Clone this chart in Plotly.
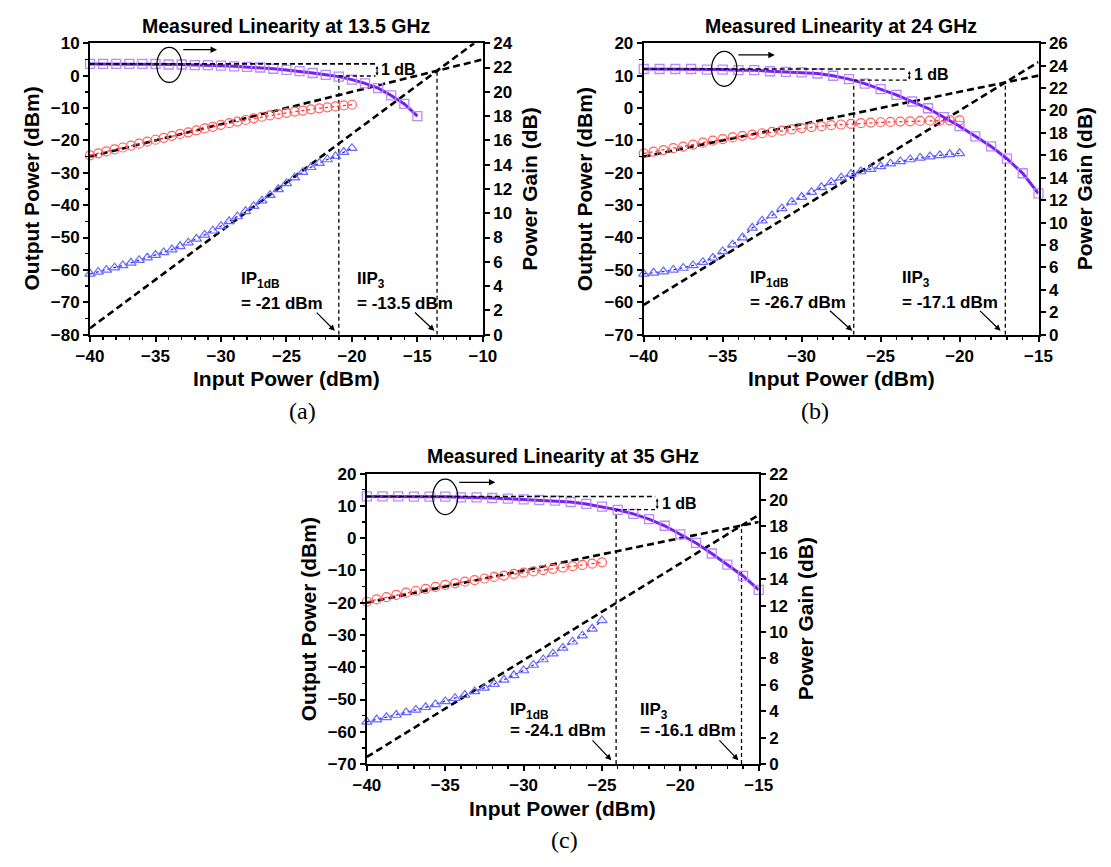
import plotly.graph_objects as go

W, H = 1111, 867

# ---------------- data ----------------
pin_fine = [-40.0, -39.375, -38.75, -38.125, -37.5, -36.875, -36.25, -35.625, -35.0,
            -34.375, -33.75, -33.125, -32.5, -31.875, -31.25, -30.625, -30.0, -29.375,
            -28.75, -28.125, -27.5, -26.875, -26.25, -25.625, -25.0, -24.375, -23.75,
            -23.125, -22.5, -21.875, -21.25, -20.625, -20.0]
pin_fine_c = [-40.0, -39.375, -38.75, -38.125, -37.5, -36.875, -36.25, -35.625, -35.0,
              -34.375, -33.75, -33.125, -32.5, -31.875, -31.25, -30.625, -30.0, -29.375,
              -28.75, -28.125, -27.5, -26.875, -26.25, -25.625, -25.0]
pin_gain = [-40, -39, -38, -37, -36, -35, -34, -33, -32, -31, -30, -29, -28, -27, -26,
            -25, -24, -23, -22, -21, -20, -19, -18, -17, -16, -15]

# (a) 13.5 GHz
fund_a = [-24.6, -24.0, -23.4, -22.8, -22.2, -21.6, -21.0, -20.4, -19.8, -19.2, -18.6,
          -18.0, -17.5, -16.9, -16.3, -15.8, -15.2, -14.7, -14.2, -13.7, -13.2, -12.7,
          -12.3, -11.9, -11.5, -11.1, -10.8, -10.4, -10.1, -9.8, -9.5, -9.2, -9.0]
im3_a = [-61.2, -60.6, -60.0, -59.3, -58.6, -57.8, -57.0, -56.2, -55.4, -54.6, -53.7,
         -52.7, -51.6, -50.4, -49.2, -47.9, -46.5, -45.0, -43.5, -41.9, -40.3, -38.6,
         -36.9, -35.1, -33.3, -31.5, -29.8, -28.3, -27.0, -25.9, -24.9, -23.6, -22.4]
gain_a = [22.3, 22.3, 22.3, 22.3, 22.3, 22.3, 22.25, 22.25, 22.2, 22.2, 22.15, 22.1,
          22.05, 22.0, 21.9, 21.8, 21.7, 21.55, 21.4, 21.25, 21.0, 20.7, 20.3, 19.7,
          19.0, 18.0]

# (b) 24 GHz
fund_b = [-14.0, -13.5, -13.0, -12.4, -11.9, -11.3, -10.7, -10.1, -9.6, -9.1, -8.6,
          -8.2, -7.8, -7.4, -7.0, -6.6, -6.2, -5.9, -5.6, -5.3, -5.1, -4.9, -4.7, -4.5,
          -4.4, -4.3, -4.2, -4.1, -4.0, -3.9, -3.9, -3.8, -3.8]
im3_b = [-51.2, -50.9, -50.5, -50.0, -49.4, -48.6, -47.6, -46.3, -44.3, -42.2, -40.0,
         -37.0, -34.8, -33.2, -31.0, -29.0, -27.5, -26.0, -24.5, -22.9, -21.5, -20.4,
         -19.6, -18.9, -18.0, -17.2, -16.5, -15.9, -15.4, -15.0, -14.6, -14.3, -14.0]
gain_b = [23.7, 23.7, 23.7, 23.7, 23.65, 23.65, 23.6, 23.6, 23.5, 23.45, 23.4, 23.3,
          23.1, 22.8, 22.4, 21.9, 21.4, 20.8, 20.2, 19.4, 18.6, 17.7, 16.8, 15.7, 14.4,
          12.6]

# (c) 35 GHz
fund_c = [-19.7, -19.0, -18.3, -17.6, -16.9, -16.3, -15.7, -15.1, -14.5, -14.0, -13.5,
          -13.0, -12.5, -12.0, -11.6, -11.1, -10.7, -10.3, -9.9, -9.5, -9.1, -8.7, -8.3,
          -7.9, -7.5]
im3_c = [-56.9, -56.2, -55.5, -54.8, -54.0, -53.2, -52.4, -51.5, -50.6, -49.6, -48.6,
         -47.5, -46.4, -45.2, -43.9, -42.5, -41.0, -39.3, -37.6, -35.8, -34.0, -32.1,
         -30.2, -28.1, -25.5]
gain_c = [20.27, 20.27, 20.27, 20.25, 20.25, 20.25, 20.2, 20.2, 20.15, 20.1, 20.05,
          20.0, 19.95, 19.85, 19.7, 19.5, 19.25, 18.95, 18.55, 18.05, 17.4, 16.75,
          15.95, 15.1, 14.25, 13.2]

# extrapolation lines (endpoints) and markers
fundfit_x = {"a": [-40, -10], "b": [-40, -15], "c": [-40, -15]}
fundfit_y = {"a": [-25, 5], "b": [-15, 10], "c": [-20, 5]}
im3fit_x = {"a": [-40, -10.67], "b": [-40, -15], "c": [-40, -15]}
im3fit_y = {"a": [-78, 10], "b": [-60.8, 14.2], "c": [-67.8, 7.2]}
p1db = {"a": -21.0, "b": -26.7, "c": -24.1}
iip3 = {"a": -13.5, "b": -17.1, "c": -16.1}
p1db_top = {"a": -0.3, "b": 8.6, "c": 8.8}
iip3_top = {"a": 1.5, "b": 7.9, "c": 3.9}
gain_flat = {"a": 22.3, "b": 23.7, "c": 20.27}
box_end = {"a": -18.2, "b": -23.3, "c": -21.6}

xr = {"a": [-40, -10], "b": [-40, -15], "c": [-40, -15]}
yl = {"a": [-80, 10], "b": [-70, 20], "c": [-70, 20]}
yr = {"a": [0, 24], "b": [0, 26], "c": [0, 22]}
titles = {"a": "Measured Linearity at 13.5 GHz", "b": "Measured Linearity at 24 GHz",
          "c": "Measured Linearity at 35 GHz"}
p1db_txt = {"a": "= -21 dBm", "b": "= -26.7 dBm", "c": "= -24.1 dBm"}
iip3_txt = {"a": "= -13.5 dBm", "b": "= -17.1 dBm", "c": "= -16.1 dBm"}

# ---------------- layout geometry (pixels) ----------------
box = {"a": (78, 481, 35, 333), "b": (646, 1051, 35, 333), "c": (362, 764, 475, 772)}
panel_lbl = {"a": (296, 411), "b": (822, 411), "c": (565, 850)}
axn = {"a": ("x", "y", "y2"), "b": ("x2", "y3", "y4"), "c": ("x3", "y5", "y6")}

FONT = "Liberation Sans, Arial, sans-serif"
fig = go.Figure()

def px(x):
    return x / W

def py(y):
    return 1 - y / H

series = {
    "a": (pin_fine, fund_a, im3_a, pin_gain, gain_a),
    "b": (pin_fine, fund_b, im3_b, pin_gain, gain_b),
    "c": (pin_fine_c, fund_c, im3_c, pin_gain, gain_c),
}

annotations = []
layout_axes = {}

text_pos = {
    "a": dict(ip_x=-28.6, ii_x=-19.8, y1=-63.0, y2=-70.3,
              arr1=(-22.8, -72.7, -21.3, -78.8), arr2=(-15.3, -72.7, -13.7, -78.8),
              ell=(-34.9, -2.1, -33.0, 8.7), harr=(-33.0, 8.0, -30.3),
              lbl1db=(-17.9,)),
    "b": dict(ip_x=-33.4, ii_x=-23.8, y1=-52.7, y2=-60.2,
              arr1=(-28.3, -62.2, -26.8, -68.8), arr2=(-18.8, -62.2, -17.4, -68.8),
              ell=(-35.7, 6.7, -34.1, 17.5), harr=(-34.1, 16.4, -31.7),
              lbl1db=(-23.0,)),
    "c": dict(ip_x=-31.0, ii_x=-22.7, y1=-53.6, y2=-59.7,
              arr1=(-25.7, -62.2, -24.4, -68.8), arr2=(-17.6, -62.2, -16.3, -68.8),
              ell=(-35.8, 7.3, -34.2, 18.3), harr=(-34.2, 17.3, -31.8),
              lbl1db=(-21.3,)),
}

shapes = []
for key in ["a", "b", "c"]:
    xa, ya, ya2 = axn[key]
    l, r, t, b = box[key]
    xs, fund, im3, xg, gain = series[key]
    dash_thick = "7px,4px"
    dash_thin = "4px,3px"

    # fit lines
    fig.add_trace(go.Scatter(x=fundfit_x[key], y=fundfit_y[key], mode="lines", xaxis=xa, yaxis=ya,
                             line=dict(color="black", width=2.6, dash=dash_thick), showlegend=False))
    fig.add_trace(go.Scatter(x=im3fit_x[key], y=im3fit_y[key], mode="lines", xaxis=xa, yaxis=ya,
                             line=dict(color="black", width=2.6, dash=dash_thick), showlegend=False))
    # vertical markers
    fig.add_trace(go.Scatter(x=[p1db[key], p1db[key]], y=[yl[key][0], p1db_top[key]], mode="lines",
                             xaxis=xa, yaxis=ya, line=dict(color="black", width=1.3, dash=dash_thin),
                             showlegend=False))
    fig.add_trace(go.Scatter(x=[iip3[key], iip3[key]], y=[yl[key][0], iip3_top[key]], mode="lines",
                             xaxis=xa, yaxis=ya, line=dict(color="black", width=1.3, dash=dash_thin),
                             showlegend=False))
    # fundamental
    fig.add_trace(go.Scatter(x=xs, y=fund, mode="lines+markers", xaxis=xa, yaxis=ya, cliponaxis=False,
                             line=dict(color="#ff3030", width=1.3, dash="dot"),
                             marker=dict(symbol="circle-open", size=9, color="#ff6060",
                                         line=dict(width=1.2)), showlegend=False))
    # IM3
    fig.add_trace(go.Scatter(x=xs, y=im3, mode="lines+markers", xaxis=xa, yaxis=ya, cliponaxis=False,
                             line=dict(color="#2020ff", width=1.3, dash="dot"),
                             marker=dict(symbol="triangle-up-open", size=9, color="#6a6aff",
                                         line=dict(width=1.2)), showlegend=False))
    # gain (right axis)
    fig.add_trace(go.Scatter(x=xg, y=gain, mode="lines+markers", xaxis=xa, yaxis=ya2, cliponaxis=False,
                             line=dict(color="#7a1ff0", width=3),
                             marker=dict(symbol="square-open", size=9, color="#b58cff",
                                         line=dict(width=1.3)), showlegend=False))
    # 1 dB box lines
    fig.add_trace(go.Scatter(x=[xr[key][0], box_end[key]], y=[gain_flat[key], gain_flat[key]],
                             mode="lines", xaxis=xa, yaxis=ya2,
                             line=dict(color="black", width=1.6, dash="5px,3px"), showlegend=False))
    fig.add_trace(go.Scatter(x=[p1db[key], box_end[key]], y=[gain_flat[key] - 1, gain_flat[key] - 1],
                             mode="lines", xaxis=xa, yaxis=ya2,
                             line=dict(color="black", width=1.3, dash="4px,3px"), showlegend=False))

    tp = text_pos[key]
    af = dict(family=FONT, size=17, color="black", weight="bold")
    annotations += [
        dict(x=tp["ip_x"], y=tp["y1"], xref=xa, yref=ya, text="IP<sub>1dB</sub>", showarrow=False,
             xanchor="left", yanchor="middle", font=af),
        dict(x=tp["ip_x"], y=tp["y2"], xref=xa, yref=ya, text=p1db_txt[key], showarrow=False,
             xanchor="left", yanchor="middle", font=af),
        dict(x=tp["ii_x"], y=tp["y1"], xref=xa, yref=ya, text="IIP<sub>3</sub>", showarrow=False,
             xanchor="left", yanchor="middle", font=af),
        dict(x=tp["ii_x"], y=tp["y2"], xref=xa, yref=ya, text=iip3_txt[key], showarrow=False,
             xanchor="left", yanchor="middle", font=af),
    ]
    for (x0, y0, x1, y1) in (tp["arr1"], tp["arr2"]):
        annotations.append(dict(x=x1, y=y1, ax=x0, ay=y0, xref=xa, yref=ya, axref=xa, ayref=ya,
                                text="", showarrow=True, arrowhead=2, arrowsize=1, arrowwidth=1.2,
                                arrowcolor="black"))
    hx0, hy, hx1 = tp["harr"]
    annotations.append(dict(x=hx1, y=hy, ax=hx0, ay=hy, xref=xa, yref=ya, axref=xa, ayref=ya,
                            text="", showarrow=True, arrowhead=2, arrowsize=1, arrowwidth=1.3,
                            arrowcolor="black"))
    # 1 dB double arrow + label
    annotations.append(dict(x=box_end[key] + 0.12, y=gain_flat[key] - 0.95, ax=box_end[key] + 0.12,
                            ay=gain_flat[key] - 0.05, xref=xa, yref=ya2, axref=xa, ayref=ya2,
                            text="", showarrow=True, arrowhead=2, arrowside="end+start",
                            arrowsize=0.6, arrowwidth=1, arrowcolor="black"))
    annotations.append(dict(x=tp["lbl1db"][0], y=gain_flat[key] - 0.5, xref=xa, yref=ya2,
                            text="1 dB", showarrow=False, xanchor="left", yanchor="middle",
                            font=dict(family=FONT, size=16, color="black", weight="bold")))
    # ellipse
    ex0, ey0, ex1, ey1 = tp["ell"]
    shapes.append(dict(type="circle", xref=xa, yref=ya, x0=ex0, y0=ey0, x1=ex1, y1=ey1,
                       line=dict(color="black", width=1.2)))

    # titles & axis labels
    cx = (l + r) / 2
    annotations.append(dict(x=px(cx), y=py(t - 18), xref="paper", yref="paper", text=titles[key],
                            showarrow=False, xanchor="center", yanchor="middle",
                            font=dict(family=FONT, size=19.5, color="black", weight="bold")))
    annotations.append(dict(x=px(cx), y=py(b + 45), xref="paper", yref="paper",
                            text="Input Power (dBm)", showarrow=False, xanchor="center",
                            yanchor="middle",
                            font=dict(family=FONT, size=21, color="black", weight="bold")))
    annotations.append(dict(x=px(l - 60), y=py((t + b) / 2), xref="paper", yref="paper",
                            text="Output Power (dBm)", showarrow=False, textangle=-90,
                            xanchor="center", yanchor="middle",
                            font=dict(family=FONT, size=21, color="black", weight="bold")))
    annotations.append(dict(x=px(r + 48), y=py((t + b) / 2), xref="paper", yref="paper",
                            text="Power Gain (dB)", showarrow=False, textangle=-90,
                            xanchor="center", yanchor="middle",
                            font=dict(family=FONT, size=21, color="black", weight="bold")))
    lx, ly = panel_lbl[key]
    annotations.append(dict(x=px(lx), y=py(ly), xref="paper", yref="paper", text=f"({key})",
                            showarrow=False, xanchor="center", yanchor="middle",
                            font=dict(family="Liberation Serif, Times New Roman, serif", size=24,
                                      color="black")))

    tickf = dict(family=FONT, size=17, color="black", weight="bold")
    xname = "xaxis" if xa == "x" else "xaxis" + xa[1:]
    yname = "yaxis" if ya == "y" else "yaxis" + ya[1:]
    y2name = "yaxis" + ya2[1:]
    layout_axes[xname] = dict(domain=[px(l), px(r)], anchor=ya, range=xr[key], dtick=5, tick0=-40,
                              ticks="outside", ticklen=5, tickwidth=2, tickcolor="black",
                              minor=dict(dtick=1, ticks="outside", ticklen=3, tickwidth=1.5,
                                         tickcolor="black"),
                              showline=True, linewidth=2, linecolor="black", mirror=True,
                              showgrid=False, zeroline=False, tickfont=tickf)
    layout_axes[yname] = dict(domain=[py(b), py(t)], anchor=xa, range=yl[key], dtick=10,
                              ticks="outside", ticklen=5, tickwidth=2, tickcolor="black",
                              minor=dict(dtick=5, ticks="outside", ticklen=3, tickwidth=1.5,
                                         tickcolor="black"),
                              showline=True, linewidth=2, linecolor="black",
                              showgrid=False, zeroline=False, tickfont=tickf)
    layout_axes[y2name] = dict(domain=[py(b), py(t)], anchor=xa, overlaying=ya, side="right",
                               range=yr[key], dtick=2, ticks="outside", ticklen=5, tickwidth=2,
                               tickcolor="black", showline=True, linewidth=2, linecolor="black",
                               showgrid=False, zeroline=False, tickfont=tickf)

fig.update_layout(width=W, height=H, autosize=False, margin=dict(l=0, r=0, t=0, b=0),
                  paper_bgcolor="white", plot_bgcolor="white", showlegend=False,
                  annotations=annotations, shapes=shapes, **layout_axes)
fig.write_html("out.html", config={"displayModeBar": False, "staticPlot": True},
               post_script="document.body.style.margin='0';document.body.style.padding='0';"
                           "document.body.style.overflow='hidden';")
